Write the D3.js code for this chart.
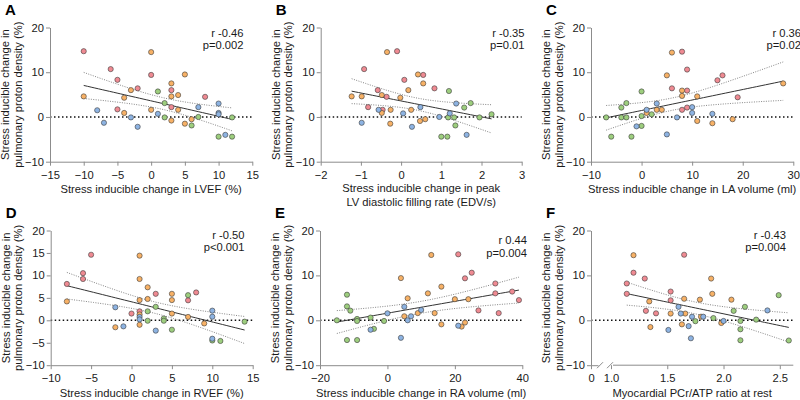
<!DOCTYPE html>
<html>
<head>
<meta charset="utf-8">
<script src="https://cdn.jsdelivr.net/npm/d3@7"></script>
<style>
  body { margin: 0; background: #fff; }
  svg { display: block; font-family: "Liberation Sans", Arial, sans-serif; }
</style>
</head>
<body>
<svg id="chart" width="800" height="400"></svg>
<script>
// Each point: [x, y, group]. Groups: r = red, o = orange, g = green, b = blue
const lvefPoints = [
  [-10, 14.7, "r"], [-6, 10.7, "r"], [-5, 8.3, "r"], [-2, 6.4, "r"], [0, 9.4, "r"],
  [3, 6.0, "r"], [3, 2.2, "r"], [8, 4.5, "r"], [-5, 1.7, "r"],
  [0, 14.5, "o"], [5, 9.5, "o"], [-10, 4.6, "o"], [-3, 6.0, "o"], [-4, 4.3, "o"],
  [3, 7.5, "o"], [3, 4.6, "o"], [4, 4.9, "o"], [4, 1.6, "o"], [0, 1.6, "o"],
  [-4, 0.9, "o"], [3, -0.8, "o"], [5, -1.5, "o"], [6, -0.5, "o"],
  [1, 5.7, "g"], [2, 3.1, "g"], [2, -0.1, "g"], [6, -1.9, "g"], [7, 0, "g"],
  [10, -4.4, "g"], [12, -4.4, "g"], [12, -0.1, "g"],
  [-8, 1.5, "b"], [-7, -1.3, "b"], [-3, -0.1, "b"], [-2, -2.2, "b"], [1, 0.7, "b"],
  [7, 2.2, "b"], [10, 3.0, "b"], [10, 0.9, "b"], [10, 0.6, "b"], [11, -4.0, "b"]
]

const peakFillingPoints = [
  [-0.1, 14.7, "r"], [-0.92, 10.7, "r"], [0.08, 8.3, "r"], [0.55, 9.4, "r"], [0.83, 6.4, "r"],
  [-0.58, 6.0, "r"], [-0.36, 4.5, "r"], [-0.82, 2.2, "r"], [-0.46, 1.6, "r"],
  [-0.35, 14.5, "o"], [0.42, 9.5, "o"], [0.55, 7.5, "o"], [0.18, 6.0, "o"], [-0.48, 4.9, "o"],
  [-0.02, 4.3, "o"], [-1.23, 4.6, "o"], [-0.98, 4.6, "o"], [-0.26, 1.6, "o"], [0.25, 1.6, "o"],
  [-0.48, 0.9, "o"], [-0.27, -1.5, "o"], [0.47, -0.9, "o"], [0.6, -0.5, "o"],
  [1.19, 5.8, "g"], [1.73, 3.1, "g"], [1.57, 2.1, "g"], [1.95, -0.1, "g"], [2.25, 0.6, "g"],
  [1.17, -0.1, "g"], [1.32, -0.1, "g"], [1.35, -1.9, "g"], [1.0, -4.4, "g"], [1.15, -4.4, "g"],
  [-0.98, -1.3, "b"], [-0.56, 1.6, "b"], [0.05, 0.8, "b"], [0.27, -2.2, "b"], [0.48, 2.2, "b"],
  [0.95, 0, "b"], [1.21, 0.8, "b"], [1.37, 3.0, "b"], [1.63, -4.0, "b"]
]

const laVolumePoints = [
  [8, 14.6, "r"], [9, 10.6, "r"], [16, 9.3, "r"], [15, 8.2, "r"], [6, 6.4, "r"],
  [9, 5.9, "r"], [19, 4.4, "r"], [9, 2.1, "r"], [8, 1.6, "r"],
  [6, 14.4, "o"], [5, 9.3, "o"], [8, 5.9, "o"], [8, 4.7, "o"], [11, 4.6, "o"],
  [28, 7.5, "o"], [3, 1.6, "o"], [4, 1.6, "o"], [1, 0.9, "o"], [11, -0.9, "o"],
  [14, -1.4, "o"], [18, -0.5, "o"],
  [0, 5.7, "g"], [-3, 3.1, "g"], [-4, 2.1, "g"], [-7, -0.1, "g"], [-4, -0.1, "g"],
  [-3, -0.1, "g"], [0, 0.2, "g"], [2, 0.6, "g"], [0, -2.0, "g"], [-6, -4.4, "g"], [-2, -4.4, "g"],
  [3, 3.0, "b"], [1, 1.6, "b"], [-1, -2.1, "b"], [7, -0.1, "b"], [10, 2.2, "b"],
  [10, 0.9, "b"], [14, 0.7, "b"], [5, -3.9, "b"]
]

const rvefPoints = [
  [-5, 14.6, "r"], [-6, 10.5, "r"], [-6, 9.2, "r"], [-8, 8.1, "r"], [3, 5.9, "r"],
  [8, 6.2, "r"], [7, 4.45, "r"], [1, 2.0, "r"], [0, 1.5, "r"],
  [1, 14.4, "o"], [1, 9.2, "o"], [2, 7.35, "o"], [2, 4.75, "o"], [1, 4.5, "o"],
  [-8, 4.2, "o"], [5, 5.9, "o"], [5, 4.5, "o"], [5, 1.5, "o"], [7, 0.75, "o"],
  [9, -0.7, "o"], [-2, -1.55, "o"], [1, -1.0, "o"], [1, 1.3, "o"],
  [7, 5.6, "g"], [3, 3.0, "g"], [2, 2.0, "g"], [2, -0.1, "g"], [4, 0.4, "g"],
  [4, -0.1, "g"], [5, -2.1, "g"], [10, -4.5, "g"], [11, -4.6, "g"], [14, -0.3, "g"],
  [-2, 2.9, "b"], [-1, -1.35, "b"], [1, 0.75, "b"], [1, 0.2, "b"], [3, -2.3, "b"],
  [10, 2.15, "b"], [10, 0.8, "b"], [10, -4.1, "b"]
]

const raVolumePoints = [
  [21, 14.7, "r"], [25, 10.6, "r"], [23, 9.35, "r"], [32, 8.2, "r"], [32, 6.0, "r"],
  [37, 6.4, "r"], [39, 4.5, "r"], [27, 2.2, "r"], [33, 1.6, "r"],
  [13, 14.55, "o"], [4, 9.4, "o"], [16, 7.5, "o"], [12, 6.0, "o"], [6, 4.9, "o"],
  [20, 4.7, "o"], [24, 4.7, "o"], [5, 0.9, "o"], [9, 1.6, "o"], [14, 1.6, "o"],
  [16, -0.9, "o"], [22, -1.4, "o"], [23, -0.5, "o"],
  [-12, 5.7, "g"], [-12, 3.1, "g"], [-11, 2.15, "g"], [-15, 0, "g"], [-9, 0.3, "g"],
  [-9, -0.15, "g"], [-5, 0.6, "g"], [-1, -0.15, "g"], [-4, -1.9, "g"], [-12, -4.4, "g"], [-9, -4.4, "g"],
  [0, 1.55, "b"], [5, 3.0, "b"], [6, 0, "b"], [7, 0.9, "b"], [10, 2.3, "b"],
  [-5, -2.1, "b"], [4, -3.9, "b"], [21, -1.2, "b"]
]

const pcrAtpPoints = [
  [1.65, 14.6, "r"], [1.2, 10.6, "r"], [1.3, 9.3, "r"], [1.14, 8.2, "r"], [1.14, 5.9, "r"],
  [1.53, 6.4, "r"], [1.53, 4.45, "r"], [1.31, 2.1, "r"], [1.4, 1.55, "r"],
  [1.2, 14.5, "o"], [1.89, 9.3, "o"], [1.9, 5.9, "o"], [1.65, 4.8, "o"], [1.79, 4.6, "o"],
  [2.07, 4.6, "o"], [1.34, 4.2, "o"], [1.53, 1.5, "o"], [1.66, 1.5, "o"], [1.8, 0.8, "o"],
  [1.35, -1.5, "o"], [1.63, -0.9, "o"], [1.98, -0.6, "o"],
  [2.49, 5.6, "g"], [2.19, 3.0, "g"], [2.09, 2.1, "g"], [1.91, 0.5, "g"], [1.75, -0.2, "g"],
  [2.15, -0.15, "g"], [2.29, 0.15, "g"], [2.15, -2.0, "g"], [2.15, -4.45, "g"], [2.58, -4.5, "g"],
  [1.6, 3.0, "b"], [1.62, 1.5, "b"], [1.72, 0.8, "b"], [1.82, 0.8, "b"], [1.69, -1.3, "b"],
  [2.0, -0.15, "b"], [1.51, -2.15, "b"], [1.71, -4.0, "b"], [2.39, 2.2, "b"]
]

const panelLetters = ["A", "B", "C", "D", "E", "F"]
const xTitles = [
  ["Stress inducible change in LVEF (%)"],
  ["Stress inducible change in peak", "LV diastolic filling rate (EDV/s)"],
  ["Stress inducible change in LA volume (ml)"],
  ["Stress inducible change in RVEF (%)"],
  ["Stress inducible change in RA volume (ml)"],
  ["Myocardial PCr/ATP ratio at rest"]
]
const yTitle = ["Stress inducible change in", "pulmonary proton density (%)"]
const xTickValues = [
  [-15, -10, -5, 0, 5, 10, 15],
  [-2, -1, 0, 1, 2, 3],
  [-10, 0, 10, 20, 30],
  [-10, -5, 0, 5, 10, 15],
  [-20, 0, 20, 40],
  [1.0, 1.5, 2.0, 2.5]
]
const yTickValues = [
  [-10, 0, 10, 20], [-10, 0, 10, 20], [-10, 0, 10, 20],
  [-10, -5, 0, 5, 10, 15, 20], [-10, 0, 10, 20], [-10, 0, 10, 20]
]
const rLabels = ["r -0.46", "r -0.35", "r 0.36", "r -0.50", "r 0.44", "r -0.43"]
const pLabels = ["p=0.002", "p=0.01", "p=0.02", "p<0.001", "p=0.004", "p=0.004"]

const groupColors = { r: "#ef8a92", o: "#f7b166", g: "#9dce7e", b: "#8db3e2" }
const axisColor = "#8c8c8c"
const textColor = "#1a1a1a"
const fontSize = 11.2

// Panel frames (pixels) and x domains
const panels = [
  { left: 50, right: 252.3, top: 27.5, bottom: 161.7, xDomain: [-15, 15], statsX: 243.5, statsY: 36.5 },
  { left: 320.7, right: 521.7, top: 27.5, bottom: 161.7, xDomain: [-2, 3], statsX: 524.5, statsY: 36.5 },
  { left: 591, right: 793.3, top: 27.5, bottom: 161.7, xDomain: [-10, 30], statsX: 801, statsY: 36.5 },
  { left: 50.7, right: 252.7, top: 230.5, bottom: 365.2, xDomain: [-10, 15], statsX: 244.5, statsY: 238.5 },
  { left: 320, right: 522.3, top: 230.5, bottom: 365.2, xDomain: [-20, 40], statsX: 527, statsY: 244 },
  { left: 591, right: 793.3, top: 230.5, bottom: 365.2, xDomain: [1.0, 2.62], statsX: 786, statsY: 238.5, broken: true }
]
const allPoints = [lvefPoints, peakFillingPoints, laVolumePoints, rvefPoints, raVolumePoints, pcrAtpPoints]

const svg = d3.select("#chart")

panels.forEach((p, i) => renderPanel(svg, p, i))


function renderPanel(svg, p, i) {
  const g = svg.append("g")
  const xStart = p.broken ? p.left + 20 : p.left
  const x = d3.scaleLinear().domain(p.xDomain).range([xStart, p.right])
  const y = d3.scaleLinear().domain([-10, 20]).range([p.bottom, p.top])
  const data = allPoints[i]

  // Zero reference line
  g.append("line")
    .attr("x1", p.left)
    .attr("x2", p.right)
    .attr("y1", y(0))
    .attr("y2", y(0))
    .attr("stroke", "#111")
    .attr("stroke-width", 1.5)
    .attr("stroke-dasharray", "1.5,2.5")

  renderFit(g, data, x, y)

  g.append("g")
    .selectAll("circle")
    .data(data)
    .join("circle")
    .attr("cx", d => x(d[0]))
    .attr("cy", d => y(d[1]))
    .attr("r", 2.6)
    .attr("fill", d => groupColors[d[2]])
    .attr("stroke", "#3c3c3c")
    .attr("stroke-width", 0.6)

  renderAxes(g, p, i, x, y)
  renderLabels(g, p, i)
}

function linearFit(data) {
  const n = data.length
  const mx = d3.mean(data, d => d[0])
  const my = d3.mean(data, d => d[1])
  const sxx = d3.sum(data, d => (d[0] - mx) ** 2)
  const sxy = d3.sum(data, d => (d[0] - mx) * (d[1] - my))
  const slope = sxy / sxx
  const intercept = my - slope * mx
  const sse = d3.sum(data, d => (d[1] - intercept - slope * d[0]) ** 2)
  const s = Math.sqrt(sse / (n - 2))
  return { n, mx, sxx, slope, intercept, s }
}

function renderFit(g, data, x, y) {
  const fit = linearFit(data)
  const t = 2.026 // two sided 95%, df ~ 38
  const [x0, x1] = d3.extent(data, d => d[0])
  const xs = d3.range(0, 41).map(k => x0 + (x1 - x0) * k / 40)
  const band = xs.map(v => {
    const yHat = fit.intercept + fit.slope * v
    const half = t * fit.s * Math.sqrt(1 / fit.n + (v - fit.mx) ** 2 / fit.sxx)
    return { v, yHat, lo: yHat - half, hi: yHat + half }
  })

  const line = key => d3.line().x(d => x(d.v)).y(d => y(d[key]))

  g.append("path")
    .attr("d", line("hi")(band))
    .attr("fill", "none")
    .attr("stroke", "#777")
    .attr("stroke-width", 0.9)
    .attr("stroke-dasharray", "1,1.4")

  g.append("path")
    .attr("d", line("lo")(band))
    .attr("fill", "none")
    .attr("stroke", "#777")
    .attr("stroke-width", 0.9)
    .attr("stroke-dasharray", "1,1.4")

  g.append("path")
    .attr("d", line("yHat")(band))
    .attr("fill", "none")
    .attr("stroke", "#333")
    .attr("stroke-width", 1)
}

function styleAxis(axisG) {
  axisG.selectAll(".domain").attr("stroke", axisColor)
  axisG.selectAll(".tick line").attr("stroke", axisColor)
  axisG.selectAll(".tick text")
    .attr("fill", textColor)
    .attr("font-size", fontSize)
    .attr("font-family", "Liberation Sans, Arial, sans-serif")
}

function renderAxes(g, p, i, x, y) {
  g.append("g")
    .attr("transform", `translate(${p.left}, 0)`)
    .call(d3.axisLeft(y)
      .tickValues(yTickValues[i])
      .tickSize(4)
      .tickSizeOuter(0)
      .tickPadding(2))
    .call(styleAxis)

  const xAxis = g.append("g")
    .attr("transform", `translate(0, ${p.bottom})`)
    .call(d3.axisBottom(x)
      .tickValues(xTickValues[i])
      .tickFormat(p.broken ? d3.format(".1f") : d3.format("d"))
      .tickSize(4)
      .tickSizeOuter(0)
      .tickPadding(5))
    .call(styleAxis)

  if (!p.broken) return

  // Broken axis: short "0" segment, two slashes, then the main range
  xAxis.select(".domain")
    .attr("d", `M${p.left + 22},0H${p.right}`)

  const zero = d3.scaleLinear().domain([0, 1]).range([p.left, p.left + 7])
  g.append("g")
    .attr("transform", `translate(0, ${p.bottom})`)
    .call(d3.axisBottom(zero)
      .tickValues([0])
      .tickFormat(d3.format("d"))
      .tickSize(4)
      .tickSizeOuter(0)
      .tickPadding(5))
    .call(styleAxis)

  ;[p.left + 9, p.left + 19].forEach(cx => {
    g.append("line")
      .attr("x1", cx - 3)
      .attr("x2", cx + 3)
      .attr("y1", p.bottom + 3)
      .attr("y2", p.bottom - 3)
      .attr("stroke", axisColor)
      .attr("stroke-width", 1)
  })
}

function renderLabels(g, p, i) {
  g.append("text")
    .attr("x", p.left - 45)
    .attr("y", p.top - 13)
    .attr("font-size", 15)
    .attr("font-weight", "bold")
    .attr("fill", "#000")
    .text(panelLetters[i])

  const midY = (p.top + p.bottom) / 2
  yTitle.forEach((line, k) => {
    g.append("text")
      .attr("transform", `translate(${p.left - 41 + k * 12.5}, ${midY}) rotate(-90)`)
      .attr("text-anchor", "middle")
      .attr("font-size", fontSize)
      .attr("fill", textColor)
      .text(line)
  })

  const midX = (p.left + p.right) / 2
  const titleY = xTitles[i].length > 1 ? p.bottom + 30.5 : p.bottom + 31.5
  xTitles[i].forEach((line, k) => {
    g.append("text")
      .attr("x", midX)
      .attr("y", titleY + k * 13.5)
      .attr("text-anchor", "middle")
      .attr("font-size", fontSize)
      .attr("fill", textColor)
      .text(line)
  })

  g.append("text")
    .attr("x", p.statsX)
    .attr("y", p.statsY)
    .attr("text-anchor", "end")
    .attr("font-size", fontSize)
    .attr("fill", textColor)
    .text(rLabels[i])

  g.append("text")
    .attr("x", p.statsX)
    .attr("y", p.statsY + 12.7)
    .attr("text-anchor", "end")
    .attr("font-size", fontSize)
    .attr("fill", textColor)
    .text(pLabels[i])
}
</script>
</body>
</html>
